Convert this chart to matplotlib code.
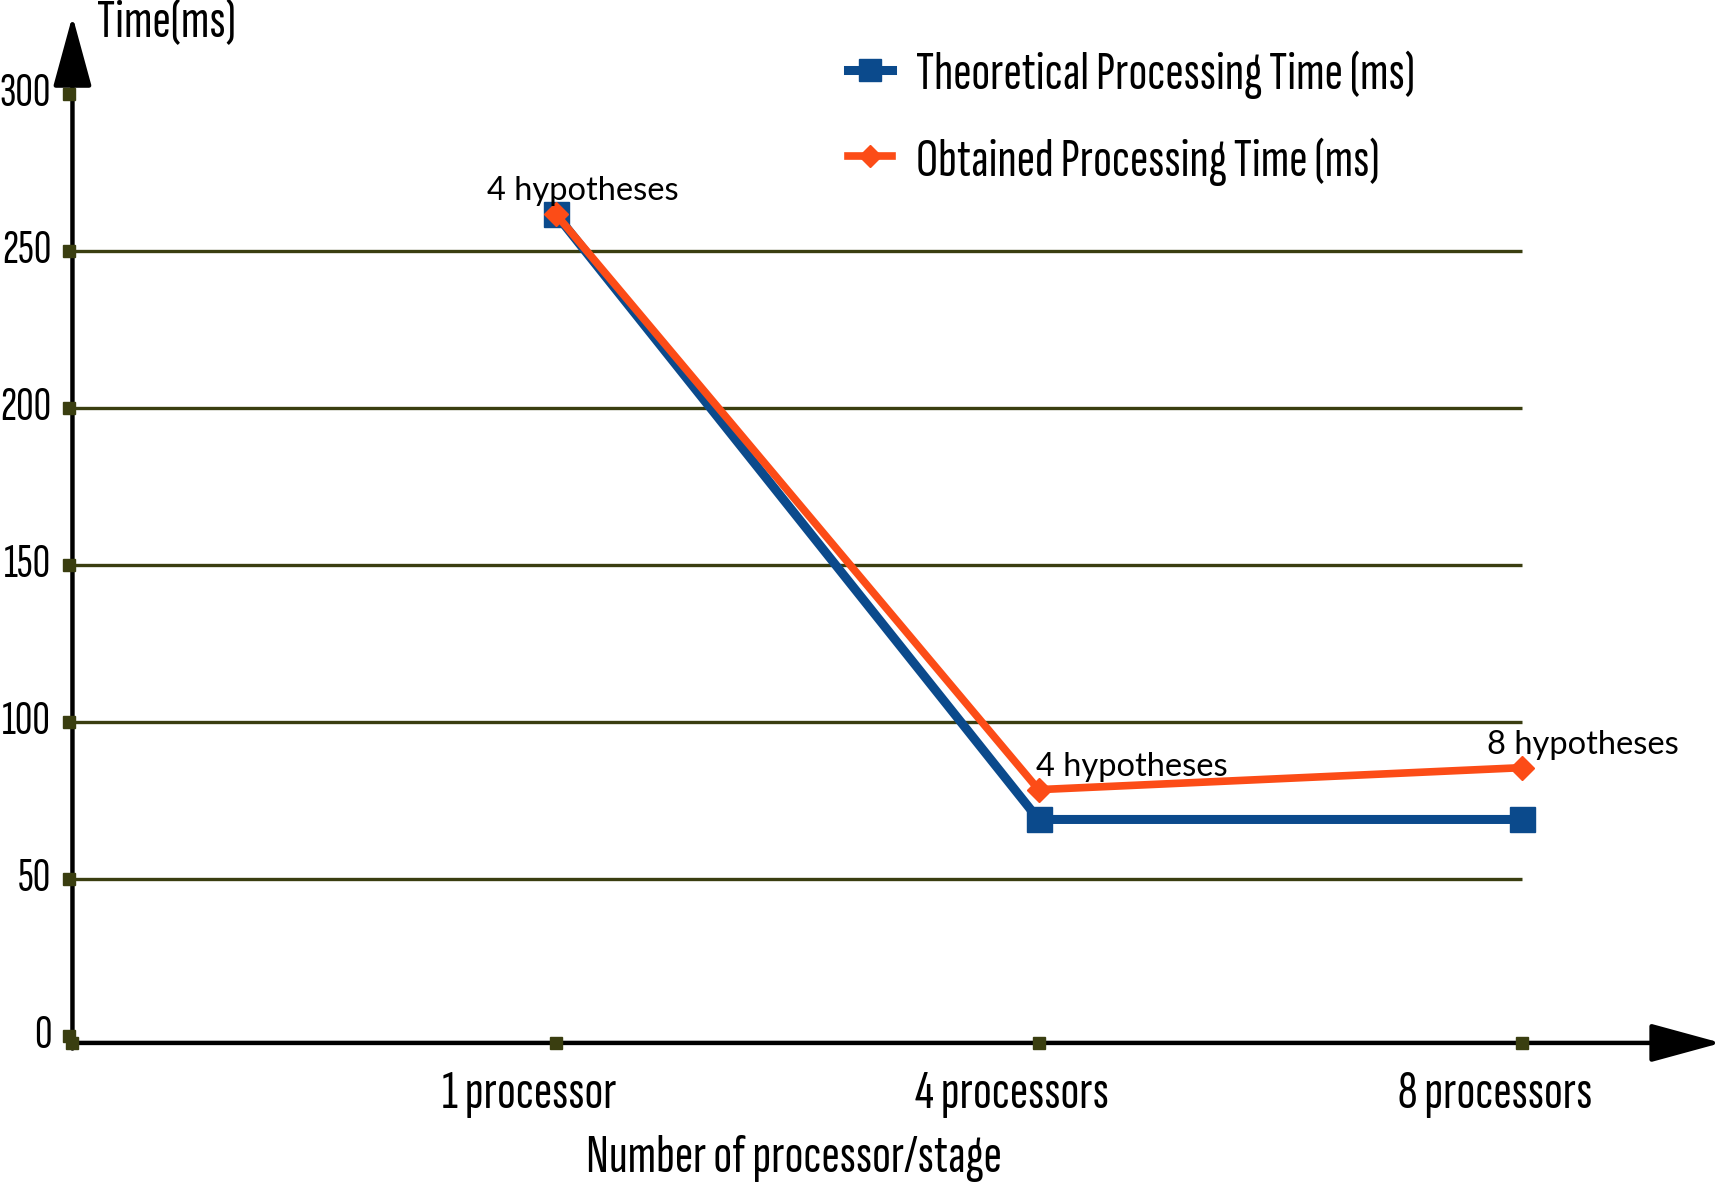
import matplotlib
matplotlib.use("Agg")
import matplotlib.pyplot as plt
from matplotlib.patches import FancyArrowPatch

# data
categories = ["1 processor", "4 processors", "8 processors"]
theoretical = [262, 69, 69]
obtained = [262, 78.5, 85.5]
notes = ["4 hypotheses", "4 hypotheses", "8 hypotheses"]
y_ticks = [0, 50, 100, 150, 200, 250, 300]
grid_levels = [50, 100, 150, 200, 250]

BLUE = "#0b4a8c"
ORANGE = "#fc4c17"
OLIVE = "#3a3e10"
NARROW = ["Sofia Sans Extra Condensed", "PT Sans Narrow", "DejaVu Sans"]
NOTE_FONT = ["Lato", "DejaVu Sans"]
FS = 40

fig = plt.figure(figsize=(17.25, 11.92), dpi=100)
ax = fig.add_axes([0, 0, 1, 1])
ax.set_xlim(-0.150, 3.421)
ax.set_ylim(-49.7, 330.1)
ax.axis("off")

xs = list(range(1, len(categories) + 1))

# grid lines
ax.hlines(grid_levels, 0, xs[-1], color=OLIVE, lw=2.4, zorder=1)

# axes with arrows
arrow = "-|>,head_length=2.2,head_width=0.6"
ax.add_patch(FancyArrowPatch((0, -4), (0, 325), arrowstyle=arrow, mutation_scale=20,
                             color="black", lw=3.2, zorder=3, shrinkA=0, shrinkB=0))
ax.add_patch(FancyArrowPatch((0, -2.2), (3.413, -2.2), arrowstyle=arrow, mutation_scale=20,
                             color="black", lw=3.2, zorder=3, shrinkA=0, shrinkB=0))

# tick squares
ax.plot([-0.007] * len(y_ticks), y_ticks, "s", color=OLIVE, ms=8, zorder=4, clip_on=False)
ax.plot([0] + xs, [-2.2] * (len(xs) + 1), "s", color=OLIVE, ms=8, zorder=4, clip_on=False)

# tick labels
for v in y_ticks:
    ax.text(-0.044, v, str(v), ha="right", va="center", fontsize=35, family=NARROW)
for x, c in zip(xs, categories):
    ax.text(x - 0.055, -18.5, c, ha="center", va="center", fontsize=FS, family=NARROW)

ax.text(0.05, 322.5, "Time(ms)", ha="left", va="center", fontsize=FS, family=NARROW)
ax.text(1.494, -39, "Number of processor/stage", ha="center", va="center", fontsize=FS, family=NARROW)

# series
ax.plot(xs, theoretical, color=BLUE, lw=6.5, marker="s", ms=18, zorder=5,
        label="Theoretical Processing Time (ms)")
ax.plot(xs, obtained, color=ORANGE, lw=5.5, marker="D", ms=12.5, zorder=6,
        label="Obtained Processing Time (ms)")

# annotations
note_pos = [(0.858, 266.5), (1.995, 83), (2.929, 89.7)]
for (x, y), t in zip(note_pos, notes):
    ax.text(x, y, t, ha="left", va="baseline", fontsize=23.5, family=NOTE_FONT, zorder=7)

leg = ax.legend(loc="upper left", bbox_to_anchor=(0.4916, 0.958), frameon=False,
                prop={"family": NARROW, "size": FS}, handlelength=0.8, handletextpad=0.42,
                labelspacing=0.68, markerscale=0.88, borderpad=0, borderaxespad=0)

fig.savefig("out.png", dpi=100)
